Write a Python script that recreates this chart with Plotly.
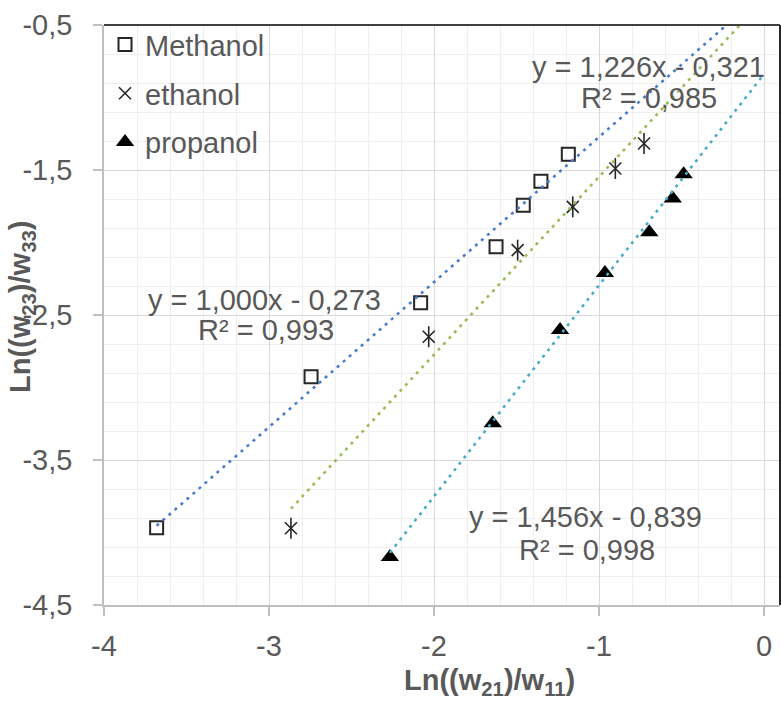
import plotly.graph_objects as go

# ---- data ----
methanol_x = [-3.681, -2.745, -2.081, -1.624, -1.459, -1.352, -1.186]
methanol_y = [-3.967, -2.926, -2.416, -2.030, -1.743, -1.577, -1.391]

ethanol_x = [-2.867, -2.032, -1.493, -1.159, -0.901, -0.727]
ethanol_y = [-3.971, -2.650, -2.053, -1.754, -1.490, -1.317]

propanol_x = [-2.267, -1.644, -1.236, -0.964, -0.695, -0.553, -0.487]
propanol_y = [-4.169, -3.247, -2.604, -2.211, -1.929, -1.696, -1.529]

series_names = ["Methanol", "ethanol", "propanol"]
trend_slope = [1.000, 1.226, 1.456]
trend_intercept = [-0.273, -0.321, -0.839]
trend_r2 = [0.993, 0.985, 0.998]
trend_end_x = [0.0, 0.0, 0.0]

x_tickvals = [-4, -3, -2, -1, 0]
x_ticktext = ["-4", "-3", "-2", "-1", "0"]
y_tickvals = [-0.5, -1.5, -2.5, -3.5, -4.5]
y_ticktext = ["-0,5", "-1,5", "-2,5", "-3,5", "-4,5"]

FONT = "Liberation Sans, Arial, sans-serif"
TXT = "#595959"
FS = 29

fig = go.Figure()

trend_colors = ["#4A7EC8", "#9BBB59", "#4BACC6"]
xs_all = [methanol_x, ethanol_x, propanol_x]


def eq_text(m, b):
    s = f"y = {m:.3f}x - {abs(b):.3f}" if b < 0 else f"y = {m:.3f}x + {b:.3f}"
    return s.replace(".", ",")


# markers
fig.add_trace(go.Scatter(
    x=methanol_x, y=methanol_y, mode="markers", name=series_names[0],
    legendgroup="m",
    marker=dict(symbol="square-open", size=13, color="#262626", line=dict(width=2, color="#262626")),
))
fig.add_trace(go.Scatter(
    x=ethanol_x, y=ethanol_y, mode="markers", name=series_names[1],
    legendgroup="e",
    marker=dict(symbol="x-thin-open", size=12, color="#262626", line=dict(width=1.6, color="#262626")),
))
fig.add_trace(go.Scatter(
    x=ethanol_x, y=ethanol_y, mode="markers", name=series_names[1],
    legendgroup="e", showlegend=False,
    marker=dict(symbol="line-ns-open", size=15, color="#262626", line=dict(width=1.6, color="#262626")),
))
fig.add_trace(go.Scatter(
    x=propanol_x, y=propanol_y, mode="markers", name=series_names[2],
    legendgroup="p",
    marker=dict(symbol="triangle-up", size=16, color="#000000", line=dict(width=0)),
))

for i in range(3):
    x0 = min(xs_all[i])
    x1 = trend_end_x[i]
    tx = [x0, x1]
    ty = [trend_slope[i] * v + trend_intercept[i] for v in tx]
    fig.add_trace(go.Scatter(
        x=tx, y=ty, mode="lines", showlegend=False, hoverinfo="skip",
        line=dict(color=trend_colors[i], width=2.6, dash="3px,5px"),
    ))

# equation labels (pixel-estimated placements)
label_pos = [((-3.030, -2.397), (-3.018, -2.604)),
             ((-0.703, -0.792), (-0.697, -1.005)),
             ((-1.079, -3.893), (-1.073, -4.120))]
for i in range(3):
    (ex, ey), (rx, ry) = label_pos[i]
    fig.add_annotation(x=ex, y=ey, text=eq_text(trend_slope[i], trend_intercept[i]),
                       showarrow=False, xanchor="center", yanchor="middle",
                       font=dict(family=FONT, size=FS, color=TXT))
    fig.add_annotation(x=rx, y=ry, text=("R² = " + f"{trend_r2[i]:.3f}").replace(".", ","),
                       showarrow=False, xanchor="center", yanchor="middle",
                       font=dict(family=FONT, size=FS, color=TXT))

# axis titles
fig.add_annotation(xref="paper", yref="paper", x=(489 - 104) / 676, y=(605 - 682) / 580,
                   text="<b>Ln((w<sub>21</sub>)/w<sub>11</sub>)</b>", showarrow=False,
                   xanchor="center", yanchor="middle",
                   font=dict(family=FONT, size=FS, color=TXT))
fig.add_annotation(xref="paper", yref="paper", x=(22 - 104) / 676, y=(605 - 307) / 580,
                   text="<b>Ln((w<sub>23</sub>)/w<sub>33</sub>)</b>", showarrow=False,
                   textangle=-90, xanchor="center", yanchor="middle",
                   font=dict(family=FONT, size=FS, color=TXT))

# frame lines top / right
fig.add_shape(type="line", xref="paper", yref="paper", x0=0, x1=1, y0=1, y1=1,
              line=dict(color="#404040", width=2))
fig.add_shape(type="line", xref="paper", yref="paper", x0=1, x1=1, y0=0, y1=1,
              line=dict(color="#262626", width=2))

axis_common = dict(
    showline=True, linecolor="#bfbfbf", linewidth=1.5,
    ticks="outside", ticklen=9, tickcolor="#bfbfbf", tickwidth=1.5,
    showgrid=True, gridcolor="#d9d9d9", gridwidth=1.3,
    zeroline=False, automargin=False,
    tickfont=dict(family=FONT, size=FS, color=TXT),
    tickmode="array",
)

fig.update_xaxes(range=[-4, 0.097], tickvals=x_tickvals, ticktext=x_ticktext,
                 ticklabelstandoff=5,
                 minor=dict(tickmode="linear", tick0=-4, dtick=0.2, showgrid=True,
                            gridcolor="#efefef", gridwidth=1, ticks=""),
                 **axis_common)
fig.update_yaxes(range=[-4.5, -0.5], tickvals=y_tickvals, ticktext=y_ticktext,
                 ticklabelstandoff=15,
                 minor=dict(tickmode="linear", tick0=-0.5, dtick=0.2, showgrid=True,
                            gridcolor="#efefef", gridwidth=1, ticks=""),
                 **axis_common)

fig.update_layout(
    width=781, height=702,
    margin=dict(l=104, r=1, t=25, b=97, autoexpand=False),
    paper_bgcolor="white", plot_bgcolor="white",
    font=dict(family=FONT, size=FS, color=TXT),
    legend=dict(x=0.0015, y=1.01, xanchor="left", yanchor="top",
                bgcolor="rgba(0,0,0,0)", tracegroupgap=8,
                font=dict(family=FONT, size=FS, color=TXT),
                itemsizing="trace"),
    showlegend=True,
)

fig.write_html(
    "out.html",
    config={"displayModeBar": False},
    post_script="document.body.style.margin='0';document.body.style.overflow='hidden';",
)
